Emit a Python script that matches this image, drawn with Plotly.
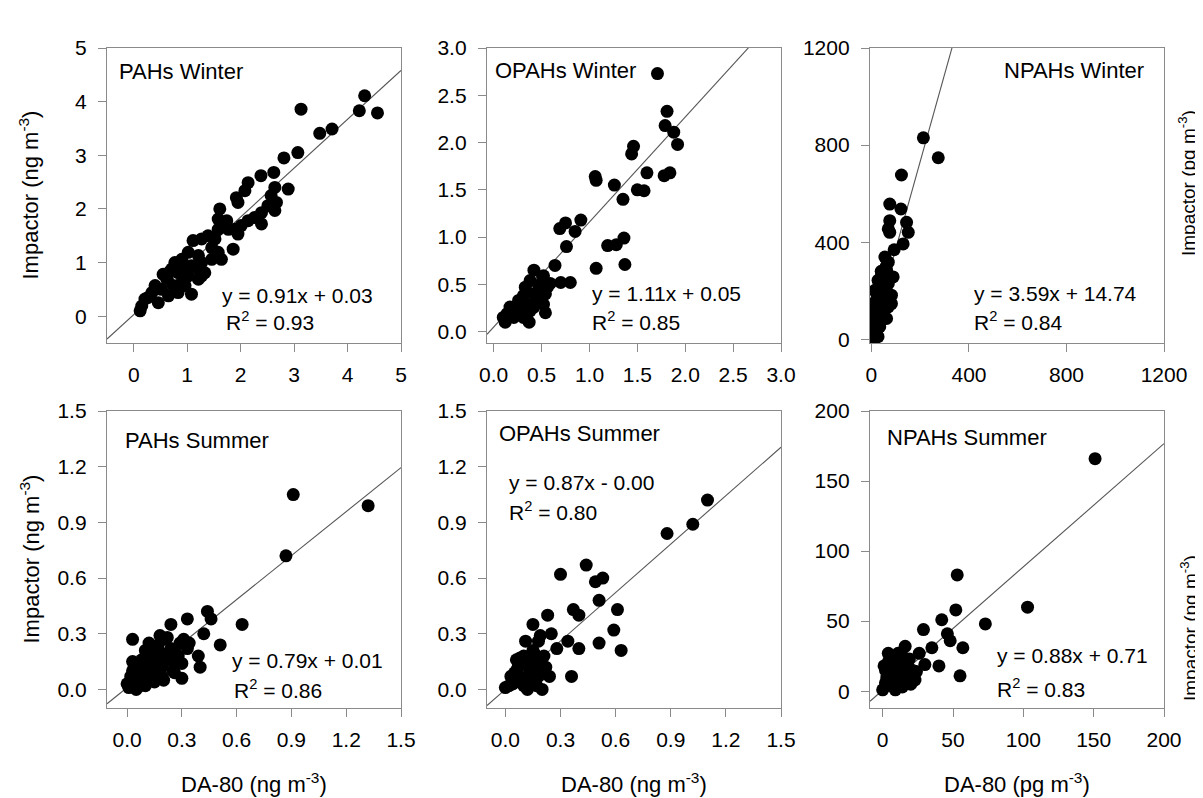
import plotly.graph_objects as go

# the page has an 8px body margin, so the figure is shifted by it
OFF = 8
PAGE_W, PAGE_H = 1203, 798
W, H = PAGE_W - OFF, PAGE_H - OFF
FONT = "Liberation Sans, Arial, sans-serif"

# ---------------- data ----------------
pahs_w_x = [4.32, 4.22, 4.56, 3.13, 3.48, 3.71, 3.07, 2.81, 2.62, 2.38,
            2.14, 2.08, 1.92, 1.95, 2.89, 2.64, 2.57, 2.67, 2.51, 2.64,
            2.39, 2.26, 2.39, 2.14, 2.01, 1.89, 1.95, 1.61, 1.58, 1.74,
            1.77, 1.86, 1.52, 1.39, 1.27, 1.11, 1.46, 1.58, 1.21, 1.02,
            0.90, 0.77, 1.02, 1.27, 1.33, 1.21, 1.02, 0.83, 0.65, 0.55,
            0.74, 0.90, 1.08, 0.52, 0.40, 0.34, 0.21, 0.15, 0.12, 0.46,
            0.65, 1.21, 1.46, 1.64, 0.96, 0.62, 0.27, 0.83, 1.08, 1.58,
            1.27, 0.71, 0.96]
pahs_w_y = [4.11, 3.83, 3.79, 3.86, 3.41, 3.49, 3.05, 2.95, 2.68, 2.62,
            2.49, 2.34, 2.21, 2.12, 2.37, 2.40, 2.25, 2.12, 2.06, 1.97,
            1.93, 1.84, 1.72, 1.78, 1.69, 1.62, 1.53, 2.00, 1.81, 1.78,
            1.62, 1.25, 1.44, 1.50, 1.44, 1.41, 1.28, 1.19, 1.13, 1.19,
            1.06, 1.00, 0.88, 1.00, 0.81, 0.69, 0.75, 0.81, 0.81, 0.78,
            0.57, 0.63, 0.41, 0.50, 0.57, 0.44, 0.32, 0.19, 0.10, 0.25,
            0.38, 0.88, 1.06, 1.06, 0.57, 0.69, 0.35, 0.44, 0.94, 1.62,
            0.75, 0.88, 0.94]

opahs_w_x = [1.71, 1.81, 1.79, 1.88, 1.92, 1.46, 1.44, 1.60, 1.78, 1.84,
             1.06, 1.07, 1.26, 1.50, 1.57, 1.35, 0.91, 0.75, 0.69, 0.85,
             0.76, 1.19, 1.28, 1.36, 1.07, 1.37, 0.64, 0.42, 0.70, 0.80,
             0.38, 0.52, 0.56, 0.47, 0.31, 0.42, 0.54, 0.35, 0.24, 0.17,
             0.10, 0.12, 0.21, 0.31, 0.37, 0.42, 0.52, 0.54, 0.28, 0.45,
             0.59, 0.33, 0.51, 0.26, 0.14, 0.38]
opahs_w_y = [2.73, 2.33, 2.18, 2.11, 1.98, 1.96, 1.88, 1.68, 1.65, 1.68,
             1.64, 1.60, 1.55, 1.50, 1.49, 1.40, 1.18, 1.15, 1.09, 1.06,
             0.90, 0.91, 0.92, 0.99, 0.67, 0.71, 0.70, 0.65, 0.52, 0.52,
             0.54, 0.59, 0.47, 0.49, 0.38, 0.40, 0.40, 0.29, 0.26, 0.26,
             0.15, 0.10, 0.15, 0.15, 0.10, 0.26, 0.29, 0.20, 0.20, 0.33,
             0.51, 0.47, 0.58, 0.33, 0.19, 0.22]

npahs_w_x = [213, 274, 123, 75, 121, 75, 144, 69, 75, 151,
             130, 93, 69, 62, 89, 41, 55, 14, 48, 82,
             82, 62, 41, 27, 7, 0, 14, 7, 27, 21,
             34, 48, 69, 41, 21, 14, 55, 27, 69, 34,
             10, 20, 30, 5, 40, 60, 50, 35, 25, 15]
npahs_w_y = [830, 748, 677, 557, 537, 489, 482, 455, 441, 441,
             393, 369, 318, 284, 257, 263, 236, 202, 209, 182,
             147, 86, 161, 120, 106, 59, 38, 4, 11, 79,
             52, 175, 229, 229, 188, 25, 339, 243, 134, 100,
             150, 140, 210, 80, 280, 300, 160, 70, 60, 30]

pahs_s_x = [0.91, 1.32, 0.87, 0.63, 0.44, 0.46, 0.33, 0.24, 0.42, 0.51,
            0.03, 0.18, 0.22, 0.31, 0.33, 0.39, 0.40, 0.10, 0.15, 0.26,
            0.20, 0.25, 0.30, 0.06, 0.13, 0.03, 0.02, 0.10, 0.17, 0.00,
            0.05, 0.11, 0.22, 0.34, 0.20, 0.08, 0.01, 0.26, 0.30, 0.20,
            0.05, 0.10, 0.15, 0.12, 0.16, 0.08, 0.14, 0.19, 0.23, 0.06,
            0.28, 0.12, 0.18, 0.04, 0.09, 0.14, 0.21, 0.26, 0.07, 0.17,
            0.24, 0.03, 0.12, 0.19, 0.29]
pahs_s_y = [1.05, 0.99, 0.72, 0.35, 0.42, 0.38, 0.38, 0.35, 0.30, 0.24,
            0.27, 0.29, 0.28, 0.27, 0.22, 0.18, 0.12, 0.21, 0.23, 0.21,
            0.17, 0.10, 0.14, 0.12, 0.12, 0.10, 0.07, 0.07, 0.09, 0.03,
            0.04, 0.04, 0.16, 0.25, 0.27, 0.16, 0.01, 0.09, 0.06, 0.05,
            0.00, 0.02, 0.04, 0.18, 0.14, 0.10, 0.08, 0.12, 0.20, 0.05,
            0.18, 0.25, 0.20, 0.08, 0.15, 0.20, 0.16, 0.14, 0.02, 0.24,
            0.22, 0.15, 0.06, 0.07, 0.25]

opahs_s_x = [1.10, 1.02, 0.88, 0.44, 0.30, 0.49, 0.53, 0.51, 0.37, 0.40,
             0.61, 0.23, 0.59, 0.15, 0.51, 0.63, 0.34, 0.40, 0.25, 0.19,
             0.28, 0.36, 0.24, 0.06, 0.10, 0.15, 0.21, 0.14, 0.05, 0.09,
             0.02, 0.17, 0.21, 0.11, 0.18, 0.00, 0.20, 0.12, 0.08, 0.13,
             0.16, 0.04, 0.12, 0.07, 0.18, 0.03, 0.10, 0.14, 0.19, 0.08,
             0.22, 0.06, 0.16]
opahs_s_y = [1.02, 0.89, 0.84, 0.67, 0.62, 0.58, 0.60, 0.48, 0.43, 0.40,
             0.43, 0.40, 0.32, 0.35, 0.25, 0.21, 0.26, 0.22, 0.30, 0.29,
             0.22, 0.07, 0.07, 0.16, 0.18, 0.21, 0.18, 0.13, 0.09, 0.06,
             0.02, 0.02, 0.11, 0.26, 0.26, 0.01, 0.00, 0.00, 0.04, 0.09,
             0.12, 0.03, 0.14, 0.12, 0.07, 0.07, 0.02, 0.05, 0.15, 0.17,
             0.12, 0.10, 0.19]

npahs_s_x = [151, 103, 53, 52, 73, 42, 29, 46, 48, 57,
             55, 35, 26, 16, 30, 40, 21, 4, 10, 14,
             2, 7, 16, 2, 10, 0, 19, 4, 23, 8,
             14, 5, 12, 8, 18, 3, 11, 1, 6, 13,
             20, 9, 3, 15, 24, 11]
npahs_s_y = [166, 60, 83, 58, 48, 51, 44, 41, 36, 31,
             11, 31, 27, 32, 19, 18, 15, 21, 25, 18,
             15, 10, 10, 6, 3, 1, 23, 27, 8, 16,
             3, 12, 8, 22, 12, 4, 14, 18, 6, 20,
             5, 1, 10, 24, 14, 27]

# regression (slope, intercept)
fits = [(0.91, 0.03), (1.11, 0.05), (3.59, 14.74),
        (0.79, 0.01), (0.87, 0.00), (0.88, 0.71)]
eq_labels = ["y = 0.91x + 0.03", "y = 1.11x + 0.05", "y = 3.59x + 14.74",
             "y = 0.79x + 0.01", "y = 0.87x - 0.00", "y = 0.88x + 0.71"]
r2_labels = ["R<sup>2</sup> = 0.93", "R<sup>2</sup> = 0.85", "R<sup>2</sup> = 0.84",
             "R<sup>2</sup> = 0.86", "R<sup>2</sup> = 0.80", "R<sup>2</sup> = 0.83"]
titles = ["PAHs Winter", "OPAHs Winter", "NPAHs Winter",
          "PAHs Summer", "OPAHs Summer", "NPAHs Summer"]

ticks_pahs_w = [0, 1, 2, 3, 4, 5]
ticks_opahs_w = [0.0, 0.5, 1.0, 1.5, 2.0, 2.5, 3.0]
ticks_npahs_w = [0, 400, 800, 1200]
ticks_summer = [0.0, 0.3, 0.6, 0.9, 1.2, 1.5]
ticks_npahs_s = [0, 50, 100, 150, 200]
ticks_npahs_s_y = [0, 50, 100, 150, 200]

# ---------------- layout constants (page pixels) ----------------
col_px = [(107, 401), (487, 781), (870, 1164)]
row_px = [(48, 343), (411, 708)]

panels = [
    dict(x=pahs_w_x, y=pahs_w_y, xr=[-0.5, 5], yr=[-0.5, 5],
         xt=ticks_pahs_w, yt=ticks_pahs_w, fmt="{:g}"),
    dict(x=opahs_w_x, y=opahs_w_y, xr=[-0.07, 3.0], yr=[-0.12, 3.0],
         xt=ticks_opahs_w, yt=ticks_opahs_w, fmt="{:.1f}"),
    dict(x=npahs_w_x, y=npahs_w_y, xr=[-6, 1200], yr=[-15, 1200],
         xt=ticks_npahs_w, yt=ticks_npahs_w, fmt="{:g}"),
    dict(x=pahs_s_x, y=pahs_s_y, xr=[-0.11, 1.5], yr=[-0.1, 1.5],
         xt=ticks_summer, yt=ticks_summer, fmt="{:.1f}"),
    dict(x=opahs_s_x, y=opahs_s_y, xr=[-0.1, 1.5], yr=[-0.1, 1.5],
         xt=ticks_summer, yt=ticks_summer, fmt="{:.1f}"),
    dict(x=npahs_s_x, y=npahs_s_y, xr=[-9, 200], yr=[-12, 200],
         xt=ticks_npahs_s, yt=ticks_npahs_s_y, fmt="{:g}"),
]

text_pos = [
    dict(t=(117, 79, "left"), e=(220, 303), r=(224, 328)),
    dict(t=(493, 78, "left"), e=(590, 301), r=(590, 328)),
    dict(t=(1146, 78, "right"), e=(972, 301), r=(972, 328)),
    dict(t=(123, 448, "left"), e=(230, 668), r=(232, 696)),
    dict(t=(497, 441, "left"), e=(507, 490), r=(507, 518)),
    dict(t=(885, 445, "left"), e=(995, 663), r=(995, 695)),
]

LINE_COL = "#8a8a8a"
TXT_SIZE = 21
TICK_SIZE = 21


def px_x(p):
    return (p - OFF) / W


def px_y(p):
    return 1 - (p - OFF) / H


fig = go.Figure()
layout = {}
annotations = []


def ann(text, xpx, base_px, size, anchor="left"):
    annotations.append(dict(
        text=text, xref="paper", yref="paper",
        x=px_x(xpx), y=px_y(base_px - 0.34 * size),
        xanchor=anchor, yanchor="middle", showarrow=False,
        font=dict(family=FONT, size=size, color="black")))


for i, p in enumerate(panels):
    k = i + 1
    r, c = divmod(i, 3)
    xs = "" if k == 1 else str(k)
    x0, x1 = col_px[c]
    y0, y1 = row_px[r]
    axis_common = dict(
        showline=True, mirror=True, linecolor=LINE_COL, linewidth=1.3,
        ticks="outside", ticklen=8, tickwidth=1.3, tickcolor=LINE_COL,
        showgrid=False, zeroline=False, automargin=False,
        tickfont=dict(family=FONT, size=TICK_SIZE, color="black"),
        tickmode="array")
    layout["xaxis" + xs] = dict(
        axis_common, domain=[px_x(x0), px_x(x1)], range=p["xr"],
        tickvals=p["xt"], ticktext=[p["fmt"].format(v) for v in p["xt"]],
        ticklabelstandoff=5, anchor="y" + xs)
    layout["yaxis" + xs] = dict(
        axis_common, domain=[px_y(y1), px_y(y0)], range=p["yr"],
        tickvals=p["yt"], ticktext=[p["fmt"].format(v) for v in p["yt"]],
        ticklabelstandoff=7, anchor="x" + xs)

    a, b = fits[i]
    lx = [p["xr"][0], p["xr"][1]]
    fig.add_trace(go.Scatter(
        x=lx, y=[a * v + b for v in lx], mode="lines",
        line=dict(color="#555555", width=1.1),
        xaxis="x" + xs, yaxis="y" + xs, showlegend=False, hoverinfo="skip"))
    fig.add_trace(go.Scatter(
        x=p["x"], y=p["y"], mode="markers",
        marker=dict(color="black", size=13, line=dict(width=0)),
        xaxis="x" + xs, yaxis="y" + xs, showlegend=False))

    tp = text_pos[i]
    ann(titles[i], tp["t"][0], tp["t"][1], 22, tp["t"][2])
    ann(eq_labels[i], tp["e"][0], tp["e"][1], TXT_SIZE)
    ann(r2_labels[i], tp["r"][0], tp["r"][1], TXT_SIZE)

# axis titles
ytitle_ng = "Impactor (ng m<sup>-3</sup>)"
ytitle_pg = "Impactor (pg m<sup>-3</sup>)"
xtitle_ng = "DA-80 (ng m<sup>-3</sup>)"
xtitle_pg = "DA-80 (pg m<sup>-3</sup>)"

for (yc, txt, xc, size) in [(195.5, ytitle_ng, 29, 22), (559.5, ytitle_ng, 29, 22),
                             (183, ytitle_pg, 1187, 19), (628, ytitle_pg, 1189, 19)]:
    annotations.append(dict(
        text=txt, xref="paper", yref="paper", x=px_x(xc), y=px_y(yc),
        xanchor="center", yanchor="middle", textangle=-90, showarrow=False,
        font=dict(family=FONT, size=size, color="black")))

for xc, txt in [(254, xtitle_ng), (634, xtitle_ng), (1017, xtitle_pg)]:
    annotations.append(dict(
        text=txt, xref="paper", yref="paper", x=px_x(xc), y=px_y(783),
        xanchor="center", yanchor="middle", showarrow=False,
        font=dict(family=FONT, size=22, color="black")))

fig.update_layout(
    template="none",
    width=W, height=H, margin=dict(l=0, r=0, t=0, b=0, pad=0),
    paper_bgcolor="white", plot_bgcolor="white",
    annotations=annotations, showlegend=False, **layout)

fig.write_html("out.html")
